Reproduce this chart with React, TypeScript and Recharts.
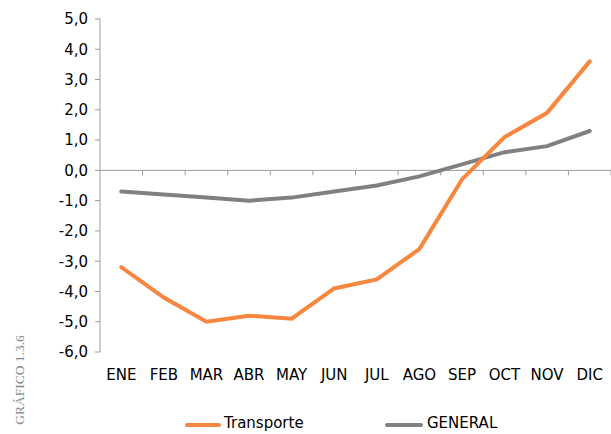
import { LineChart, Line, XAxis, YAxis, ReferenceLine } from 'recharts';

const months = ['ENE', 'FEB', 'MAR', 'ABR', 'MAY', 'JUN', 'JUL', 'AGO', 'SEP', 'OCT', 'NOV', 'DIC'];
const transporte = [-3.2, -4.2, -5.0, -4.8, -4.9, -3.9, -3.6, -2.6, -0.3, 1.1, 1.9, 3.6];
const general = [-0.7, -0.8, -0.9, -1.0, -0.9, -0.7, -0.5, -0.2, 0.2, 0.6, 0.8, 1.3];
const yTicks = [-6, -5, -4, -3, -2, -1, 0, 1, 2, 3, 4, 5];

const ORANGE = '#f7863f';
const GRAY = '#808080';
const AXIS = '#9b9b9b';
const FONT = '"DejaVu Sans", Verdana, sans-serif';

const W = 611;
const PLOT_LEFT = 100;
const HALF_BAND = (W - PLOT_LEFT) / months.length / 2;

const data = months.map((m, i) => ({ month: m, Transporte: transporte[i], GENERAL: general[i] }));

// zero line with category-boundary tick marks, like the Excel axis crossing at 0
function ZeroAxis(props: any) {
  const { x1, x2, y1 } = props;
  const band = (x2 - x1) / months.length;
  return (
    <g>
      <line x1={x1} x2={x2} y1={y1} y2={y1} stroke={AXIS} strokeWidth={1} />
      {months.map((_, i) => (
        <line key={i} x1={x1 + band * (i + 1)} x2={x1 + band * (i + 1)} y1={y1} y2={y1 + 5} stroke={AXIS} strokeWidth={1} />
      ))}
    </g>
  );
}

export default function App() {
  return (
    <div style={{ position: 'absolute', left: 0, top: 0, width: W, height: 434, overflow: 'hidden', background: '#fff' }}>
      <LineChart width={W} height={434} data={data} margin={{ top: 19, right: 0, left: 0, bottom: 52 }}>
        <XAxis
          dataKey="month"
          height={30}
          axisLine={false}
          tickLine={false}
          tickMargin={11}
          interval={0}
          padding={{ left: HALF_BAND, right: HALF_BAND }}
          tick={{ fill: '#000', fontSize: 15, fontFamily: FONT }}
        />
        <YAxis
          width={PLOT_LEFT}
          domain={[-6, 5]}
          ticks={yTicks}
          interval={0}
          tickSize={5}
          tickMargin={7}
          axisLine={{ stroke: AXIS }}
          tickLine={{ stroke: AXIS }}
          tick={{ fill: '#000', fontSize: 15, fontFamily: FONT }}
          tickFormatter={(v: number) => v.toFixed(1).replace('.', ',')}
        />
        <ReferenceLine y={0} shape={ZeroAxis} />
        <Line dataKey="GENERAL" stroke={GRAY} strokeWidth={4} dot={false} strokeLinecap="round" isAnimationActive={false} />
        <Line dataKey="Transporte" stroke={ORANGE} strokeWidth={4} dot={false} strokeLinecap="round" isAnimationActive={false} />
      </LineChart>
      <div style={{ position: 'absolute', top: 415, left: 0, width: W, fontFamily: FONT, fontSize: 15, lineHeight: '17px', color: '#000' }}>
        <div style={{ position: 'absolute', left: 185, top: 8, width: 36, height: 4, background: ORANGE, borderRadius: 2 }} />
        <div style={{ position: 'absolute', left: 224, top: 0, whiteSpace: 'nowrap' }}>Transporte</div>
        <div style={{ position: 'absolute', left: 385, top: 8, width: 38, height: 4, background: GRAY, borderRadius: 2 }} />
        <div style={{ position: 'absolute', left: 427, top: 0, whiteSpace: 'nowrap' }}>GENERAL</div>
      </div>
      <div
        style={{
          position: 'absolute',
          left: 20,
          top: 380,
          transform: 'translate(-50%, -50%) rotate(-90deg)',
          fontFamily: '"Liberation Serif", serif',
          fontSize: 13.5,
          color: '#888',
          whiteSpace: 'nowrap',
        }}
      >
        GRÁFICO 1.3.6
      </div>
    </div>
  );
}
